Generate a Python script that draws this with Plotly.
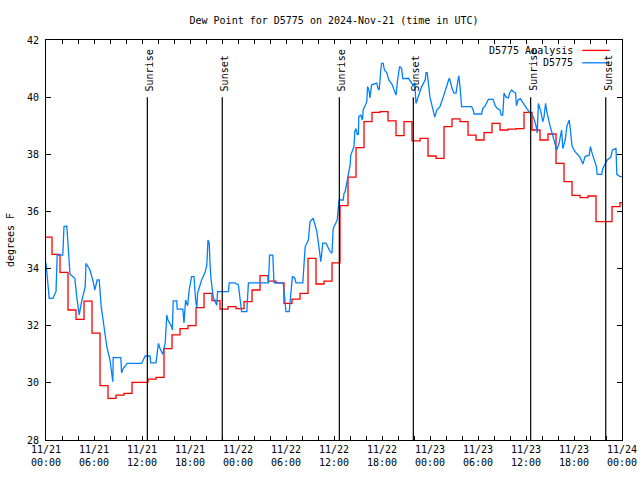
import pandas as pd
import plotly.graph_objects as go

# ---------------- data ----------------
x_start = "2024-11-21 00:00"
x_end = "2024-11-24 00:00"

# hourly analysis values (first value valid from 2024-11-20 23:45)
red_first_time = "2024-11-20 23:45"
red_values = [
    35.1, 34.5, 33.87, 32.55, 32.22, 32.86, 31.74, 29.9, 29.46, 29.57,
    29.63, 30.02, 30.02, 30.13, 30.19, 31.2, 31.68, 31.9, 32.0, 32.63,
    33.13, 32.88, 32.58, 32.67, 32.6, 32.84, 33.25, 33.75, 33.56, 33.5,
    32.78, 32.93, 33.13, 34.36, 33.46, 33.56, 34.2, 36.2, 37.2, 38.23,
    39.14, 39.47, 39.49, 39.17, 38.65, 39.14, 38.47, 38.56, 37.94, 37.86,
    38.97, 39.24, 39.14, 38.67, 38.5, 38.76, 39.08, 38.85, 38.88, 38.9,
    39.47, 38.85, 38.5, 38.71, 37.68, 37.04, 36.56, 36.48, 36.54, 35.64,
    35.64, 36.17, 36.31, 36.31,
]

# station observations: hours after 2024-11-21 00:00 UTC and dew point (F)
blue_hours = [
    0.0, 0.2, 0.4, 0.85, 1.25, 1.4, 2.1, 2.25, 2.6, 3.0,
    3.6, 3.85, 4.15, 4.45, 4.9, 5.0, 5.5, 5.9, 6.1, 6.4,
    6.65, 6.9, 7.25, 7.6, 8.0, 8.35, 8.4, 9.35, 9.45, 9.65,
    10.15, 11.95, 12.4, 13.0, 13.1, 13.75, 14.05, 14.25, 14.6, 14.9,
    15.1, 15.25, 15.7, 15.8, 15.9, 16.35, 16.4, 17.1, 17.25, 17.45,
    17.7, 17.9, 18.2, 18.5, 18.7, 18.85, 18.95, 19.15, 19.45, 19.85,
    20.1, 20.25, 20.4, 20.5, 20.6, 20.9, 21.35, 21.45, 22.8, 22.9,
    23.6, 24.05, 24.25, 24.45, 25.1, 25.2, 25.3, 27.8, 27.95, 28.35,
    28.5, 29.65, 29.85, 30.0, 30.4, 30.7, 30.8, 31.1, 31.25, 32.1,
    32.25, 32.4, 32.8, 33.0, 33.4, 33.6, 33.85, 34.05, 34.35, 34.6,
    35.0, 35.5, 35.75, 35.9, 36.25, 36.4, 36.55, 36.65, 37.15, 37.25,
    37.4, 37.8, 38.0, 38.1, 38.5, 38.6, 38.75, 38.9, 39.05, 39.1,
    39.35, 39.55, 39.65, 40.1, 40.2, 40.4, 40.5, 40.7, 41.35, 41.5,
    41.65, 41.85, 41.95, 42.15, 42.3, 42.6, 42.85, 43.25, 43.55, 43.75,
    43.95, 44.2, 44.45, 44.6, 45.3, 45.7, 45.9, 46.1, 46.25, 46.55,
    46.95, 47.4, 47.5, 47.65, 48.0, 48.25, 48.6, 48.85, 49.25, 49.65,
    50.1, 50.4, 50.5, 50.75, 51.0, 51.25, 51.5, 51.6, 51.75, 51.95,
    53.2, 53.4, 53.5, 54.45, 54.6, 54.9, 55.3, 55.9, 56.1, 56.4,
    56.75, 56.9, 57.1, 57.25, 57.5, 57.8, 57.95, 58.2, 58.4, 58.7,
    58.8, 59.0, 59.3, 59.65, 60.1, 60.5, 60.9, 61.25, 61.4, 61.55,
    61.85, 62.1, 62.25, 62.45, 62.65, 63.0, 63.4, 63.85, 64.15, 64.45,
    64.6, 64.9, 65.1, 65.4, 65.55, 65.75, 66.1, 66.5, 66.75, 67.1,
    67.4, 67.9, 68.05, 68.25, 68.5, 68.8, 68.9, 69.45, 69.6, 69.9,
    70.15, 70.6, 70.8, 71.25, 71.35, 71.75, 72.0,
]
blue_values = [
    34.2, 33.5, 32.96, 32.96, 33.19, 34.47, 34.47, 35.47, 35.49, 33.8,
    33.66, 33.0, 32.38, 32.84, 33.37, 34.18, 33.95, 33.54, 33.25, 33.6,
    33.6, 32.67, 32.0, 31.27, 30.8, 30.04, 30.88, 30.88, 30.35, 30.5,
    30.68, 30.68, 30.94, 30.94, 30.7, 30.7, 31.38, 31.2, 31.0, 31.4,
    32.37, 32.2, 31.97, 31.85, 32.87, 32.87, 32.58, 32.58, 32.1, 32.9,
    32.7, 33.25, 33.72, 33.72, 32.9, 32.62, 33.14, 33.3, 33.6, 33.84,
    34.1, 35.0, 34.9, 34.2, 33.72, 33.0, 32.72, 33.19, 33.19, 33.5,
    33.5, 33.43, 33.0, 32.49, 32.49, 33.19, 33.5, 33.5, 34.47, 34.47,
    33.5, 33.5, 32.9, 32.49, 32.49, 33.37, 33.72, 33.67, 33.5, 33.5,
    34.2, 34.77, 35.0, 35.64, 35.76, 35.5, 35.3, 34.89, 34.24, 34.89,
    34.89, 34.6, 34.54, 35.4, 35.6, 35.7, 36.17, 36.4, 36.4, 36.63,
    36.7, 37.22, 37.6, 37.97, 38.27, 38.8, 38.9, 38.7, 38.7, 39.32,
    39.37, 39.2, 39.55, 39.84, 40.37, 40.2, 39.97, 40.43, 40.49, 40.3,
    40.25, 40.95, 41.18, 41.18, 40.95, 40.85, 40.6, 40.45, 40.2, 40.07,
    40.6, 41.07, 41.0, 40.65, 40.66, 40.5, 40.37, 40.5, 39.78, 40.03,
    40.37, 40.6, 40.86, 40.86, 40.0, 39.7, 39.3, 39.55, 39.67, 40.0,
    40.37, 40.66, 40.6, 40.3, 40.14, 40.14, 40.6, 40.75, 40.37, 39.67,
    39.67, 39.55, 39.41, 39.41, 39.6, 39.7, 39.92, 39.92, 39.73, 39.6,
    39.55, 39.37, 39.37, 40.14, 40.0, 39.97, 40.14, 40.25, 40.2, 40.14,
    39.7, 39.9, 39.95, 39.78, 39.6, 39.45, 39.32, 39.0, 38.75, 39.78,
    39.5, 39.14, 39.3, 39.78, 39.43, 39.0, 38.6, 38.15, 38.4, 38.85,
    38.2, 38.5, 38.97, 39.2, 38.85, 38.3, 38.1, 37.95, 37.9, 37.66,
    37.93, 37.97, 38.27, 38.05, 37.8, 37.57, 37.3, 37.3, 37.5, 37.68,
    37.8, 37.9, 38.15, 38.2, 37.3, 37.22, 37.22,
]

sun_times = [
    "2024-11-21 12:40", "2024-11-21 22:02",
    "2024-11-22 12:40", "2024-11-22 21:55",
    "2024-11-23 12:35", "2024-11-23 21:58",
]
sun_labels = ["Sunrise", "Sunset", "Sunrise", "Sunset", "Sunrise", "Sunset"]
sun_line_top = 40

series_names = ["D5775 Analysis", "D5775"]
y_ticks = [28, 30, 32, 34, 36, 38, 40, 42]

title_text = "Dew Point for D5775 on 2024-Nov-21 (time in UTC)"
y_title = "degrees F"

# ---------------- build ----------------
FONT = "DejaVu Sans Mono"
RED = "#ff0000"
BLUE = "#0080ff"
FIG_W, FIG_H = 640, 480

red_times = pd.date_range(red_first_time, periods=len(red_values), freq="h")
blue_times = pd.Timestamp(x_start) + pd.to_timedelta(blue_hours, unit="h")

fig = go.Figure()
fig.add_trace(go.Scatter(
    x=red_times, y=red_values, mode="lines", name=series_names[0],
    line=dict(color=RED, width=1.3, shape="hv"), showlegend=False,
))
fig.add_trace(go.Scatter(
    x=blue_times, y=blue_values, mode="lines", name=series_names[1],
    line=dict(color=BLUE, width=1.3), showlegend=False,
))

for t, lab in zip(sun_times, sun_labels):
    fig.add_shape(type="line", xref="x", yref="y", x0=t, x1=t,
                  y0=y_ticks[0], y1=sun_line_top,
                  line=dict(color="black", width=1.2), layer="above")
    fig.add_annotation(x=t, y=sun_line_top, xref="x", yref="y", text=lab,
                       showarrow=False, textangle=-90, xanchor="center",
                       yanchor="bottom", yshift=4, xshift=2,
                       font=dict(family=FONT, size=10, color="black"))

# manual key (text left of the line sample, gnuplot style)
key_rows = [(0.974, RED), (0.943, BLUE)]
for (ky, col), name in zip(key_rows, series_names):
    fig.add_annotation(x=0.919, y=ky, xref="paper", yref="paper", text=name,
                       showarrow=False, xanchor="right", yanchor="middle",
                       font=dict(family=FONT, size=10, color="black"))
    fig.add_shape(type="line", xref="paper", yref="paper",
                  x0=0.931, x1=0.979, y0=ky, y1=ky,
                  line=dict(color=col, width=1.3))

fig.update_layout(
    width=FIG_W, height=FIG_H,
    margin=dict(l=46, r=18, t=40, b=40, autoexpand=False),
    paper_bgcolor="white", plot_bgcolor="white",
    font=dict(family=FONT, size=10, color="black"),
    title=dict(text=title_text, x=0.5, xref="paper", xanchor="center",
               y=1 - 20 / FIG_H, yref="container", yanchor="middle",
               automargin=False,
               font=dict(family=FONT, size=10, color="black")),
    showlegend=False,
)
fig.update_xaxes(
    range=[x_start, x_end], type="date", automargin=False,
    dtick=6 * 3600 * 1000, tick0=x_start, tickformat="%m/%d<br>%H:%M",
    ticks="inside", ticklen=4, tickcolor="black", tickwidth=1,
    minor=dict(dtick=2 * 3600 * 1000, ticks="inside", ticklen=4,
               tickcolor="black", showgrid=False),
    showline=True, linecolor="black", linewidth=1, mirror="ticks",
    showgrid=False, zeroline=False, ticklabeloverflow="allow",
    tickfont=dict(family=FONT, size=10, color="black"),
)
fig.update_yaxes(
    range=[28, 42], tickvals=y_ticks, automargin=False,
    ticks="inside", ticklen=5, tickcolor="black", tickwidth=1,
    showline=True, linecolor="black", linewidth=1, mirror="ticks",
    showgrid=False, zeroline=False, ticklabelstandoff=4,
    title=dict(text=y_title, standoff=10,
               font=dict(family=FONT, size=10, color="black")),
    tickfont=dict(family=FONT, size=10, color="black"),
)

# remove the browser's default page margin so the 640x480 figure fills the window
fig.write_html(
    "out.html",
    config={"displayModeBar": False},
    post_script="document.body.style.margin='0';document.body.style.overflow='hidden';",
)
